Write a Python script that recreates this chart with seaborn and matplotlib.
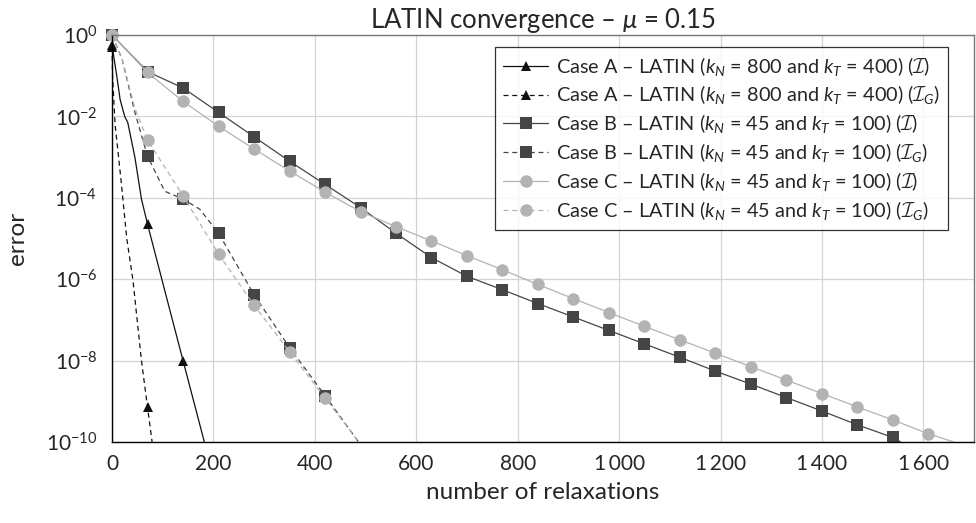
import numpy as np
import pandas as pd
import matplotlib
matplotlib.use("Agg")
import matplotlib.pyplot as plt
import matplotlib.ticker as mticker
import seaborn as sns

# iterations (x) and log10 of the error
a_x = [0, 9, 16, 25, 31, 45, 58, 70, 105, 140, 182]
a_dec = [0.25, 0.98, 1.59, 2.0, 2.15, 3.0, 4.03, 4.65, 6.33, 8.0, 10.0]

ag_x = [0, 1, 6, 18, 29, 41, 58, 70, 79]
ag_dec = [0.3, 1.0, 2.2, 3.6, 5.0, 6.0, 8.0, 9.15, 10.0]

b_x = [0, 70, 140, 210, 280, 350, 420, 490, 560, 630, 700, 770, 840, 910,
       980, 1050, 1120, 1190, 1260, 1330, 1400, 1470, 1540, 1555]
b_dec = [0.0, 0.9, 1.30, 1.90, 2.50, 3.10, 3.67, 4.24, 4.87, 5.47, 5.93, 6.26,
         6.60, 6.93, 7.26, 7.59, 7.92, 8.26, 8.58, 8.91, 9.24, 9.58, 9.89, 10.0]

bg_x = [0, 20, 45, 70, 104, 140, 173, 210, 280, 350, 420, 486]
bg_dec = [0.0, 0.6, 1.9, 2.98, 3.84, 4.03, 4.28, 4.87, 6.38, 7.68, 8.86, 10.0]

c_x = [0, 70, 140, 210, 280, 350, 420, 490, 560, 630, 700, 770, 840, 910,
       980, 1050, 1120, 1190, 1260, 1330, 1400, 1470, 1540, 1610, 1660]
c_dec = [0.0, 0.92, 1.63, 2.24, 2.80, 3.34, 3.86, 4.34, 4.71, 5.06, 5.42, 5.77,
         6.13, 6.48, 6.82, 7.16, 7.49, 7.82, 8.15, 8.48, 8.81, 9.14, 9.46, 9.80, 10.0]

cg_x = [0, 20, 45, 70, 140, 210, 280, 350, 420, 487]
cg_dec = [0.0, 0.6, 1.8, 2.58, 3.95, 5.38, 6.64, 7.78, 8.92, 10.0]

labels = [
    r"Case A – LATIN ($k_N$ = 800 and $k_T$ = 400) ($\mathcal{I}$)",
    r"Case A – LATIN ($k_N$ = 800 and $k_T$ = 400) ($\mathcal{I}_G$)",
    r"Case B – LATIN ($k_N$ = 45 and $k_T$ = 100) ($\mathcal{I}$)",
    r"Case B – LATIN ($k_N$ = 45 and $k_T$ = 100) ($\mathcal{I}_G$)",
    r"Case C – LATIN ($k_N$ = 45 and $k_T$ = 100) ($\mathcal{I}$)",
    r"Case C – LATIN ($k_N$ = 45 and $k_T$ = 100) ($\mathcal{I}_G$)",
]

sns.set_style("white")
plt.rcParams["font.family"] = ["Lato", "DejaVu Sans"]
plt.rcParams["mathtext.fontset"] = "custom"
plt.rcParams["mathtext.rm"] = "Lato"
plt.rcParams["mathtext.it"] = "Lato:italic"
plt.rcParams["mathtext.cal"] = "cmsy10"

fig, ax = plt.subplots(figsize=(9.76, 5.23), dpi=100)
fig.subplots_adjust(left=0.1148, right=0.998, bottom=0.155, top=0.933)

black = "#111111"
dark = "#454545"
light = "#b3b3b3"
series = [
    (a_x, a_dec, black, "^", "-", 7),
    (ag_x, ag_dec, black, "^", (0, (4, 3)), 7),
    (b_x, b_dec, dark, "s", "-", 9),
    (bg_x, bg_dec, dark, "s", (0, (4, 3)), 9),
    (c_x, c_dec, light, "o", "-", 9),
    (cg_x, cg_dec, light, "o", (0, (4, 3)), 9),
]

for (xs, ds, col, mk, ls, ms), lab in zip(series, labels):
    df = pd.DataFrame({"x": xs, "err": 10.0 ** (-np.array(ds))})
    marks = list(df["x"] % 70 == 0)
    sns.lineplot(data=df, x="x", y="err", ax=ax, color=col, lw=0.9,
                 linestyle=ls, marker=mk, markersize=ms, markevery=marks,
                 markeredgewidth=0, label=lab, clip_on=False, sort=False,
                 estimator=None)

ax.set_yscale("log")
ax.set_xlim(0, 1700)
ax.set_ylim(1e-10, 1)
ax.set_xticks(range(0, 1700, 200))
ax.xaxis.set_major_formatter(mticker.FuncFormatter(
    lambda v, p: f"{int(v):,}".replace(",", "\u2009")))
ax.set_yticks([10.0 ** -k for k in range(0, 11, 2)])
ax.yaxis.set_major_formatter(mticker.FuncFormatter(
    lambda v, p: r"$10^{%d}$" % round(np.log10(v))))
ax.yaxis.set_minor_locator(mticker.NullLocator())
ax.grid(True, color="#d4d4d4", lw=0.9)
ax.tick_params(axis="both", which="major", direction="out", length=3.6,
               color="#777777", labelsize=15)
ax.tick_params(axis="y", pad=7)
ax.tick_params(axis="x", pad=5)
for s in ["left", "bottom"]:
    ax.spines[s].set_color("black")
    ax.spines[s].set_linewidth(1.0)
for s in ["top", "right"]:
    ax.spines[s].set_color("#777777")
    ax.spines[s].set_linewidth(1.0)

ax.set_xlabel("number of relaxations", fontsize=17.5, labelpad=6)
ax.set_ylabel("error", fontsize=17.5, labelpad=13)
ax.set_title(r"LATIN convergence – $\mu$ = 0.15", fontsize=18.5, pad=5)

leg = ax.legend(loc="upper right", bbox_to_anchor=(0.970, 0.9707),
                borderaxespad=0, fontsize=14.3, frameon=True, fancybox=False,
                edgecolor="black", handlelength=2.3, handletextpad=0.4,
                labelspacing=0.3, borderpad=0.38, numpoints=1)
leg.get_frame().set_linewidth(0.9)

fig.savefig("out.png", dpi=100)
